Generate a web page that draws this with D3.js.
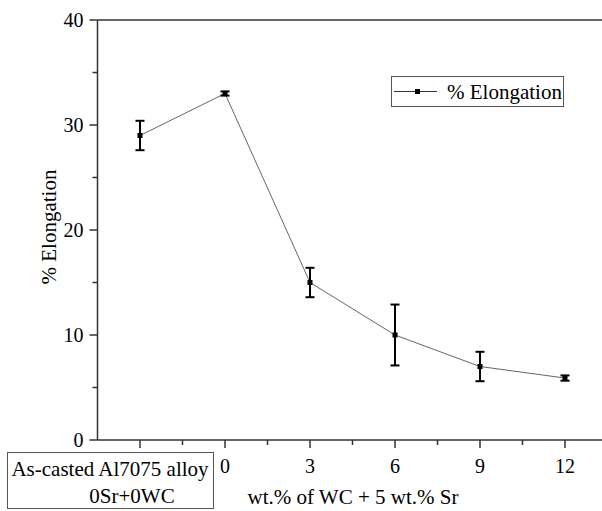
<!DOCTYPE html>
<meta charset="utf-8">
<title>% Elongation</title>
<body>
<script src="https://cdn.jsdelivr.net/npm/d3@7"></script>
<style>
html, body {
    margin: 0;
    background: #fff;
}
svg {
    display: block;
}
</style>
<script>
// data
var categories = ["As-casted", "0", "3", "6", "9", "12"],
    elongation = [29, 33, 15, 10, 7, 5.9],
    errors = [1.4, 0.2, 1.4, 2.9, 1.4, 0.25],
    yTicks = [0, 10, 20, 30, 40];

var width = 602,
    height = 511,
    tickSize = 20,
    labelSize = 21;

var svg = d3.select("body").append("svg")
    .attr("width", width)
    .attr("height", height)
    .attr("font-family", "'Liberation Serif', 'Times New Roman', 'DejaVu Serif', serif");

var x = d3.scaleLinear()
    .domain([-0.5, categories.length - 0.5])
    .range([97.5, 607.5]);

var y = d3.scaleLinear()
    .domain([0, 40])
    .range([440, 20]);

var axisColor = "#333";

// frame: top line
svg.append("line")
    .attr("x1", x(-0.5)).attr("x2", width)
    .attr("y1", y(40)).attr("y2", y(40))
    .attr("stroke", axisColor)
    .attr("stroke-width", 1.5);

// y axis
var yAxis = svg.append("g")
    .attr("transform", "translate(" + x(-0.5) + ",0)");

yAxis.append("line")
    .attr("y1", y(0)).attr("y2", y(40))
    .attr("stroke", axisColor)
    .attr("stroke-width", 1.5);

yAxis.selectAll(".minor")
    .data(yTicks.slice(0, -1).map(function(d) { return d + 5; }))
    .enter().append("line")
    .attr("x1", -5).attr("x2", 0)
    .attr("y1", y).attr("y2", y)
    .attr("stroke", axisColor)
    .attr("stroke-width", 1.5);

var yt = yAxis.selectAll(".major")
    .data(yTicks)
    .enter().append("g")
    .attr("transform", function(d) { return "translate(0," + y(d) + ")"; });

yt.append("line")
    .attr("x1", -8).attr("x2", 0)
    .attr("stroke", axisColor)
    .attr("stroke-width", 1.5);

yt.append("text")
    .attr("x", -14)
    .attr("dy", "0.34em")
    .attr("text-anchor", "end")
    .attr("font-size", tickSize)
    .text(function(d) { return d; });

svg.append("text")
    .attr("transform", "translate(56,227)rotate(-90)")
    .attr("text-anchor", "middle")
    .attr("font-size", labelSize)
    .text("% Elongation");

// x axis
var xAxis = svg.append("g")
    .attr("transform", "translate(0," + y(0) + ")");

xAxis.append("line")
    .attr("x1", x(-0.5)).attr("x2", width)
    .attr("stroke", axisColor)
    .attr("stroke-width", 1.5);

xAxis.selectAll(".minor")
    .data(categories.map(function(d, i) { return i + 0.5; }))
    .enter().append("line")
    .attr("x1", x).attr("x2", x)
    .attr("y1", 0).attr("y2", 5)
    .attr("stroke", axisColor)
    .attr("stroke-width", 1.5);

var xt = xAxis.selectAll(".major")
    .data(categories)
    .enter().append("g")
    .attr("transform", function(d, i) { return "translate(" + x(i) + ",0)"; });

xt.append("line")
    .attr("y1", 0).attr("y2", 8)
    .attr("stroke", axisColor)
    .attr("stroke-width", 1.5);

xt.filter(function(d, i) { return i > 0; })
    .append("text")
    .attr("y", 33)
    .attr("text-anchor", "middle")
    .attr("font-size", tickSize)
    .text(function(d) { return d; });

svg.append("text")
    .attr("x", 353)
    .attr("y", 504)
    .attr("text-anchor", "middle")
    .attr("font-size", labelSize)
    .text("wt.% of WC + 5 wt.% Sr");

// box label for the as-cast sample
svg.append("rect")
    .attr("x", 7.5).attr("y", 452.5)
    .attr("width", 206).attr("height", 56)
    .attr("fill", "#fff")
    .attr("stroke", "#555")
    .attr("stroke-width", 1);

svg.append("text")
    .attr("x", 110).attr("y", 476)
    .attr("text-anchor", "middle")
    .attr("font-size", labelSize)
    .text("As-casted Al7075 alloy");

svg.append("text")
    .attr("x", 132).attr("y", 503)
    .attr("text-anchor", "middle")
    .attr("font-size", labelSize)
    .text("0Sr+0WC");

// data line
var line = d3.line()
    .x(function(d, i) { return x(i); })
    .y(function(d) { return y(d); });

svg.append("path")
    .datum(elongation)
    .attr("fill", "none")
    .attr("stroke", "#666")
    .attr("stroke-width", 1)
    .attr("d", line);

// error bars
var eb = svg.selectAll(".err")
    .data(elongation)
    .enter().append("g")
    .attr("stroke", "#000")
    .attr("stroke-width", 2);

eb.append("line")
    .attr("x1", function(d, i) { return x(i); })
    .attr("x2", function(d, i) { return x(i); })
    .attr("y1", function(d, i) { return y(d + errors[i]); })
    .attr("y2", function(d, i) { return y(d - errors[i]); });

eb.append("line")
    .attr("x1", function(d, i) { return x(i) - 4.5; })
    .attr("x2", function(d, i) { return x(i) + 4.5; })
    .attr("y1", function(d, i) { return y(d + errors[i]); })
    .attr("y2", function(d, i) { return y(d + errors[i]); });

eb.append("line")
    .attr("x1", function(d, i) { return x(i) - 4.5; })
    .attr("x2", function(d, i) { return x(i) + 4.5; })
    .attr("y1", function(d, i) { return y(d - errors[i]); })
    .attr("y2", function(d, i) { return y(d - errors[i]); });

// markers
svg.selectAll(".pt")
    .data(elongation)
    .enter().append("rect")
    .attr("x", function(d, i) { return x(i) - 2.5; })
    .attr("y", function(d) { return y(d) - 2.5; })
    .attr("width", 5)
    .attr("height", 5)
    .attr("fill", "#000");

// legend
var legend = svg.append("g")
    .attr("transform", "translate(391,76)");

legend.append("rect")
    .attr("x", 0.5).attr("y", 0.5)
    .attr("width", 172).attr("height", 30)
    .attr("fill", "#fff")
    .attr("stroke", "#555")
    .attr("stroke-width", 1);

legend.append("line")
    .attr("x1", 3).attr("x2", 46)
    .attr("y1", 15.5).attr("y2", 15.5)
    .attr("stroke", "#333")
    .attr("stroke-width", 1);

legend.append("rect")
    .attr("x", 24).attr("y", 13)
    .attr("width", 5).attr("height", 5)
    .attr("fill", "#000");

legend.append("text")
    .attr("x", 56).attr("y", 15.5)
    .attr("dy", "0.34em")
    .attr("font-size", labelSize)
    .text("% Elongation");
</script>
